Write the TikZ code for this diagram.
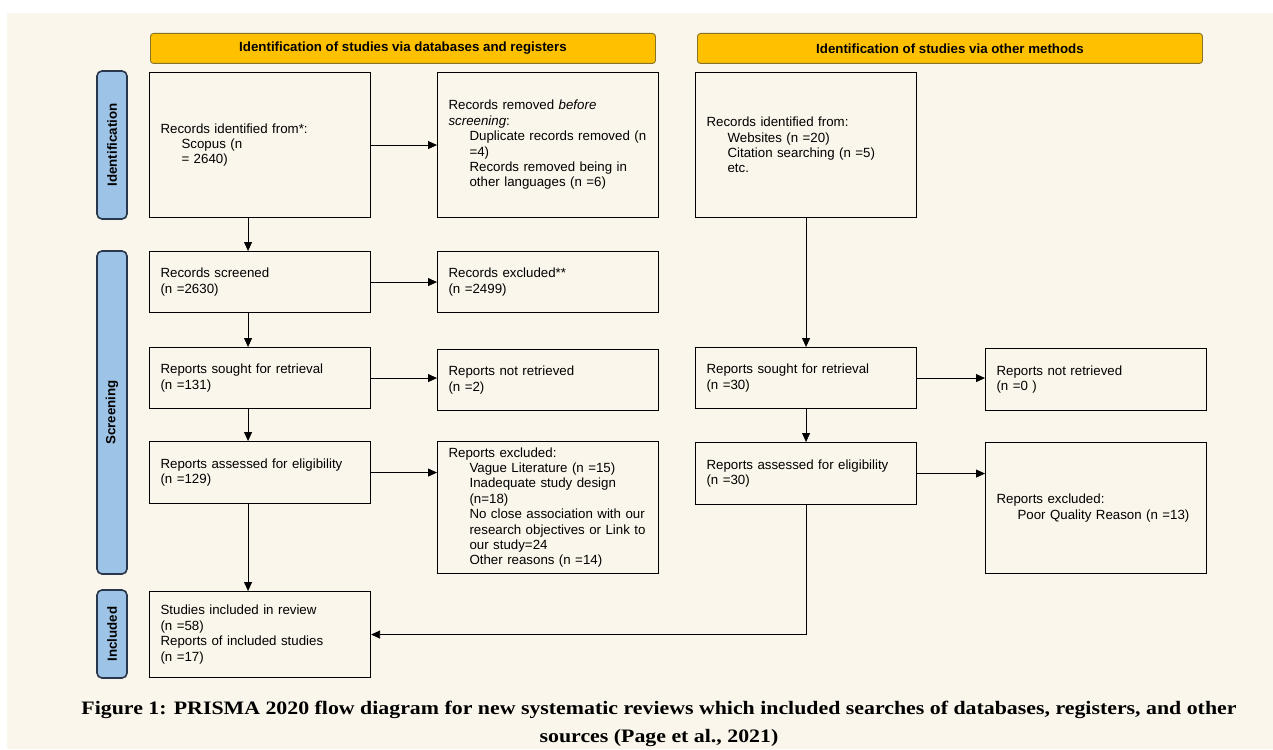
\documentclass[tikz,border=0pt]{standalone}
\usepackage{fontspec}
\setmainfont{Liberation Serif}
\setsansfont{Liberation Sans}
\newfontfamily\capfont[FakeStretch=1.15]{Liberation Serif}
\usetikzlibrary{arrows.meta}
\definecolor{paper}{RGB}{250,246,235}
\definecolor{gold}{RGB}{255,192,0}
\definecolor{goldline}{RGB}{135,115,40}
\definecolor{barblue}{RGB}{157,195,230}
\definecolor{barline}{RGB}{40,55,75}
\begin{document}
\begin{tikzpicture}
	[x=1pt,y=-1pt,
	every node/.style={font=\sffamily\fontsize{13.3}{15.4}\selectfont},
	box/.style={draw,line width=1.1pt,anchor=north west,minimum width=221pt,text width=199pt,inner xsep=11pt,align=left},
	head/.style={draw=goldline,fill=gold,line width=0.9pt,rounded corners=3pt,anchor=north west,minimum width=505pt,minimum height=30pt,font=\sffamily\bfseries\fontsize{13.3}{15.4}\selectfont},
	bar/.style={draw=barline,fill=barblue,line width=1.6pt,rounded corners=5pt,rotate=90,minimum height=30pt,font=\sffamily\bfseries\fontsize{13.3}{15.4}\selectfont},
	arr/.style={-{Triangle[length=9pt,width=8pt]},line width=0.8pt}]
	\useasboundingbox (0,0) rectangle (1273,749);
	\fill[paper] (7,13) rectangle (1273,749);
	\node[head] (hdrdb) at (150,33) {Identification of studies via databases and registers};
	\node[head] (hdroth) at (697,33) {Identification of studies via other methods};
	\node[bar,minimum width=148pt] (barid) at (112,145) {Identification};
	\node[bar,minimum width=323pt] (barscr) at (112,412.5) {Screening};
	\node[bar,minimum width=88pt] (barinc) at (112,634) {Included};
	\node[box,minimum height=145pt] (idrec) at (149,72)
		{Records identified from*:\\\hspace*{21pt}Scopus (n\\\hspace*{21pt}= 2640)\\[6pt]};
	\node[box,minimum height=145pt] (idrem) at (437,72)
		{Records removed \textit{before}\\\textit{screening}:\\\hspace*{21pt}Duplicate records removed (n\\\hspace*{21pt}=4)\\\hspace*{21pt}Records removed being in\\\hspace*{21pt}other languages (n =6)};
	\node[box,minimum height=61pt] (scr) at (149,251) {Records screened\\(n =2630)};
	\node[box,minimum height=61pt] (excl) at (437,251) {Records excluded**\\(n =2499)};
	\node[box,minimum height=61pt] (sought) at (149,347) {Reports sought for retrieval\\(n =131)};
	\node[box,minimum height=61pt] (notret) at (437,349) {Reports not retrieved\\(n =2)};
	\node[box,minimum height=62pt] (assess) at (149,441) {Reports assessed for eligibility\\(n =129)};
	\node[box,minimum height=132pt] (excrep) at (437,441)
		{Reports excluded:\\\hspace*{21pt}Vague Literature (n =15)\\\hspace*{21pt}Inadequate study design\\\hspace*{21pt}(n=18)\\\hspace*{21pt}No close association with our\\\hspace*{21pt}research objectives or Link to\\\hspace*{21pt}our study=24\\\hspace*{21pt}Other reasons (n =14)};
	\node[box,minimum height=86pt] (incl) at (149,591)
		{Studies included in review\\(n =58)\\Reports of included studies\\(n =17)};
	\node[box,minimum height=145pt] (oth) at (695,72)
		{Records identified from:\\\hspace*{21pt}Websites (n =20)\\\hspace*{21pt}Citation searching (n =5)\\\hspace*{21pt}etc.};
	\node[box,minimum height=61pt] (othsought) at (695,347) {Reports sought for retrieval\\(n =30)};
	\node[box,minimum height=62pt] (othnotret) at (985,348) {Reports not retrieved\\(n =0 )};
	\node[box,minimum height=62pt] (othassess) at (695,442) {Reports assessed for eligibility\\(n =30)};
	\node[box,minimum height=131pt] (othexcl) at (985,442)
		{Reports excluded:\\\hspace*{21pt}Poor Quality Reason (n =13)};
	\draw[arr] (idrec.east) -- (idrem.west);
	\draw[arr] ([xshift=-12pt]idrec.south) -- ([xshift=-12pt]scr.north);
	\draw[arr] (scr.east) -- (excl.west);
	\draw[arr] ([xshift=-12pt]scr.south) -- ([xshift=-12pt]sought.north);
	\draw[arr] (sought.east) -- (sought.east -| notret.west);
	\draw[arr] ([xshift=-12pt]sought.south) -- ([xshift=-12pt]assess.north);
	\draw[arr] (assess.east) -- (assess.east -| excrep.west);
	\draw[arr] ([xshift=-12pt]assess.south) -- ([xshift=-12pt]incl.north);
	\draw[arr] (oth.south) -- (othsought.north);
	\draw[arr] (othsought.east) -- (othsought.east -| othnotret.west);
	\draw[arr] (othsought.south) -- (othassess.north);
	\draw[arr] (othassess.east) -- (othassess.east -| othexcl.west);
	\draw[arr] (othassess.south) |- (incl.east);
	\node[font=\capfont\bfseries\fontsize{19}{28}\selectfont,align=center,inner sep=0pt] (caption) at (659,724)
		{Figure 1: PRISMA 2020 flow diagram for new systematic reviews which included searches of databases, registers, and other\\sources (Page et al., 2021)};
\end{tikzpicture}
\end{document}
